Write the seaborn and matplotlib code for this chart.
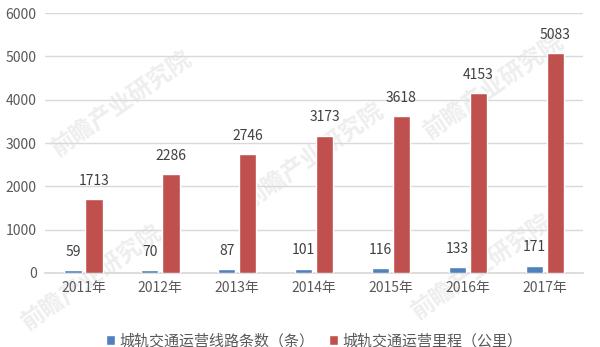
import matplotlib
matplotlib.use("Agg")
import matplotlib.pyplot as plt
import seaborn as sns
import pandas as pd

years = ["2011年", "2012年", "2013年", "2014年", "2015年", "2016年", "2017年"]
lines_count = [59, 70, 87, 101, 116, 133, 171]
mileage = [1713, 2286, 2746, 3173, 3618, 4153, 5083]
series_names = ["城轨交通运营线路条数（条）", "城轨交通运营里程（公里）"]
colors = ["#4F81BD", "#C0504D"]

sns.set_theme(style="white")
plt.rcParams["font.family"] = ["Noto Sans CJK SC", "DejaVu Sans"]

df = pd.DataFrame({
    "year": years * 2,
    "value": lines_count + mileage,
    "series": [series_names[0]] * len(years) + [series_names[1]] * len(years),
})

fig = plt.figure(figsize=(6, 3.47), dpi=100)
ax = fig.add_axes([0.075, 0.2133, 0.897, 0.749])
ax.set_zorder(1)

# faint watermarks behind the chart (kept fully inside the figure)
for (x, y) in [(0.08, 0.55), (0.40, 0.40), (0.70, 0.60), (0.03, 0.05), (0.68, 0.08)]:
    fig.text(x, y, "前瞻产业研究院", fontsize=17, color="#EEEEEE", rotation=35,
             fontweight="bold", zorder=-5)

sns.barplot(data=df, x="year", y="value", hue="series", palette=colors,
            width=0.55, gap=0.18, ax=ax, saturation=1, zorder=3)

ax.set_ylim(0, 6000)
ax.set_yticks(range(0, 6001, 1000))
ax.set_xlim(-0.5, len(years) - 0.5)
ax.set_xlabel("")
ax.set_ylabel("")
ax.grid(axis="y", color="#D9D9D9", linewidth=1, zorder=0)
ax.set_axisbelow(True)
for s in ["left", "right", "top"]:
    ax.spines[s].set_visible(False)
ax.spines["bottom"].set_color("#D9D9D9")
ax.tick_params(axis="both", length=0, labelsize=10, colors="#595959", pad=6)
ax.patch.set_alpha(0)

for cont in ax.containers:
    ax.bar_label(cont, fmt="%d", padding=8, fontsize=10, color="#404040")

leg = ax.legend(loc="upper center", bbox_to_anchor=(0.5, -0.18), ncol=2, frameon=False,
                fontsize=10.8, handlelength=0.6, handleheight=0.6, columnspacing=1.0,
                handletextpad=0.3)
for t in leg.get_texts():
    t.set_color("#595959")

fig.savefig("out.png", dpi=100)
